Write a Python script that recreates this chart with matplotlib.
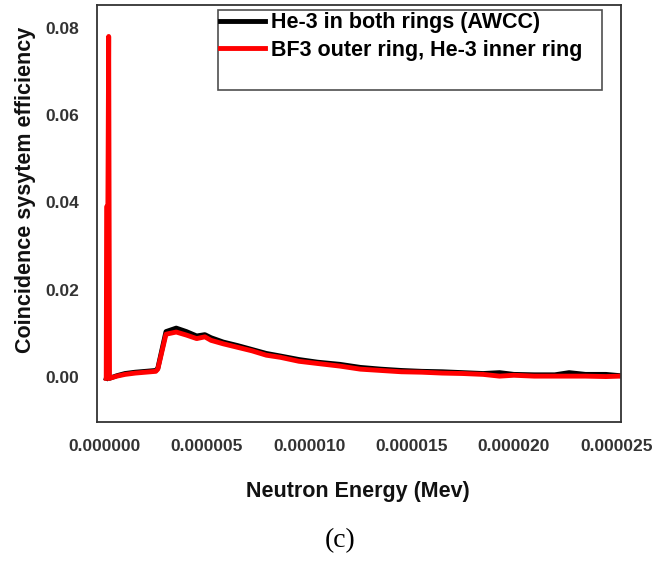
import numpy as np
import matplotlib.pyplot as plt
from matplotlib.lines import Line2D

# 能量 (单位 1e-6 MeV)
energy_he3 = [0.08, 0.10, 0.16, 0.20, 0.24, 0.6, 1.0, 1.5, 2.0, 2.5, 2.6, 3.0, 3.5, 4.0, 4.5, 4.9,
              5.2, 5.8, 6.5, 7.2, 7.9, 8.6, 9.5, 10.4, 11.5, 12.5, 13.5, 14.5, 15.5, 16.5, 17.5,
              18.5, 19.3, 20.0, 21.0, 22.0, 22.7, 23.5, 24.5, 25.2]
eff_he3 = [-0.0003, 0.0, 0.0, 0.0, -0.0003, 0.0003, 0.0008, 0.0011, 0.0013, 0.0015,
           0.0020, 0.0104, 0.0112, 0.0104, 0.0094, 0.0097, 0.0090, 0.0080, 0.0072, 0.0063,
           0.0054, 0.0048, 0.0040, 0.0034, 0.0029, 0.0022, 0.0018, 0.0015, 0.0013, 0.0012,
           0.0010, 0.0008, 0.0010, 0.0006, 0.0005, 0.0005, 0.0010, 0.0006, 0.0006, 0.0003]

energy_bf3 = energy_he3
eff_bf3 = [-0.0003, 0.039, 0.039, 0.078, -0.0003, 0.0002, 0.0006, 0.0009, 0.0011, 0.0013,
           0.0018, 0.0098, 0.0103, 0.0096, 0.0088, 0.0092, 0.0084, 0.0076, 0.0068, 0.0060,
           0.0050, 0.0045, 0.0036, 0.0031, 0.0025, 0.0018, 0.0015, 0.0012, 0.0011, 0.0009,
           0.0008, 0.0006, 0.0002, 0.0004, 0.0002, 0.0002, 0.0002, 0.0002, 0.0001, 0.0002]

labels = ['He-3 in both rings (AWCC)', 'BF3 outer ring, He-3 inner ring']
xticks = [0, 5e-6, 10e-6, 15e-6, 20e-6, 25e-6]
yticks = [0.00, 0.02, 0.04, 0.06, 0.08]

plt.rcParams['font.family'] = ['Liberation Sans', 'DejaVu Sans']

fig = plt.figure(figsize=(6.71, 5.61), dpi=100)
ax = fig.add_axes([0.1446, 0.2478, 0.781, 0.7433])

ax.plot(np.array(energy_he3) * 1e-6, eff_he3, color='black', lw=3.5, label=labels[0])
ax.plot(np.array(energy_bf3) * 1e-6, eff_bf3, color='#ff0000', lw=3.5, label=labels[1])

ax.set_xlim(-0.37e-6, 25.24e-6)
ax.set_ylim(-0.0103, 0.0852)
ax.set_xticks(xticks)
ax.set_xticklabels([f'{v:.6f}' for v in xticks])
ax.set_yticks(yticks)
ax.set_yticklabels([f'{v:.2f}' for v in yticks])
ax.tick_params(length=0, labelsize=12.5, labelcolor='#333333')
ax.tick_params(axis='x', pad=12)
ax.tick_params(axis='y', pad=13)
for lab in ax.get_xticklabels() + ax.get_yticklabels():
    lab.set_fontweight('bold')
for sp in ax.spines.values():
    sp.set_color('#333333')
    sp.set_linewidth(1.3)

# 图例(第三行留空)
handles, labs = ax.get_legend_handles_labels()
handles.append(Line2D([], [], color='none'))
labs.append(' ')
leg = ax.legend(handles, labs, loc='upper left', bbox_to_anchor=(0.231, 0.988, 0.733, 0.0),
                mode='expand', frameon=True, fancybox=False, edgecolor='#222222',
                handlelength=2.1, handletextpad=0.25, borderpad=0.1, borderaxespad=0,
                labelspacing=0.3, prop={'weight': 'bold', 'size': 15.5})
leg.get_frame().set_linewidth(1.2)

fig.text(26 / 671, 1 - 190 / 561, 'Coincidence sysytem efficiency', rotation=90,
         ha='center', va='center', fontsize=15.5, fontweight='bold', color='#111111')
fig.text(358 / 671, 1 - 492 / 561, 'Neutron Energy (Mev)', ha='center', va='center',
         fontsize=15.5, fontweight='bold', color='#111111')
fig.text(340 / 671, 1 - 541 / 561, '(c)', ha='center', va='center', fontsize=20,
         family='Liberation Serif')

fig.savefig('out.png', dpi=100)
